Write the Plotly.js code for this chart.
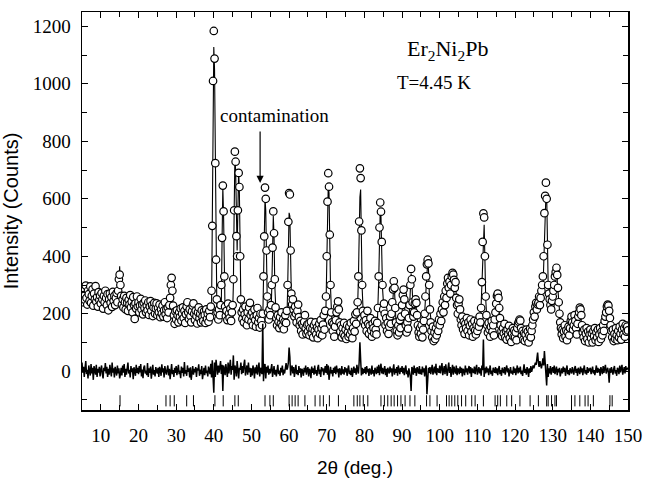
<!DOCTYPE html>
<html>
<head>
<meta charset="utf-8">
<script src="https://cdn.plot.ly/plotly-3.0.1.min.js"></script>
<style>html,body{margin:0;padding:0;background:#fff;}#chart{width:645px;height:478px;}</style>
</head>
<body>
<div id="chart"></div>
<script>
// Measurement grid: 2theta from 5 to 150 deg, step 0.2 deg (726 points)
const twoThetaStart = 5;
const twoThetaStep = 0.2;

// Observed intensity (counts), one row per 5 degrees
const observed = [
275,240,290,262,248,298,255,232,280,268,245,295,238,262,285,228,270,250,296,242,258,225,275,248,263, // 5
236,272,250,218,262,240,280,255,230,268,212,250,270,238,258,224,276,245,262,230,255,272,240,280,320, // 10
336,300,262,232,250,222,262,240,215,255,238,210,248,232,265,222,242,205,258,230,182,236,218,260,226, // 15
240,205,228,252,215,232,198,238,220,246,205,228,212,240,196,225,244,210,230,192,222,238,200,218,236, // 20
195,220,205,232,188,215,200,228,190,212,240,198,215,185,222,205,230,255,300,325,280,228,195,165,208, // 25
180,212,195,170,205,188,218,176,200,222,185,210,168,198,225,240,205,182,215,192,170,208,228,236,200, // 30
178,210,192,166,205,222,184,200,170,212,190,175,208,196,168,215,182,200,172,210,188,225,280,506,1010, // 35
1184,1088,724,388,250,205,180,215,195,230,300,464,646,556,330,225,192,210,178,235,200,185,218,175,205, // 40
230,320,560,764,729,470,400,560,690,641,400,250,205,182,215,170,198,225,185,160,205,180,222,238,195, // 45
172,205,160,188,215,178,155,195,220,170,185,152,200,176,160,200,330,469,639,600,420,260,205,180,215, // 50
195,230,300,430,556,480,320,222,185,160,195,172,150,188,165,205,158,180,146,172,195,168,210,300,520, // 55
620,615,420,270,232,250,215,190,225,200,170,210,232,188,160,175,140,165,128,158,172,195,150,130,162, // 60
138,165,125,150,172,132,148,118,160,140,170,128,152,115,145,165,130,178,150,125,162,195,145,210,260, // 65
400,590,689,642,475,300,205,170,140,165,120,155,178,205,225,243,215,170,138,160,118,150,130,168,122, // 70
145,112,160,135,120,155,128,168,140,115,150,175,138,198,165,205,240,330,521,706,672,490,300,210,172, // 75
195,160,178,140,210,165,130,158,185,142,120,165,150,132,175,145,128,168,220,330,500,587,555,450,300, // 80
215,235,200,160,185,140,168,130,155,190,165,200,240,285,313,290,220,170,140,125,160,135,178,150,190, // 85
230,265,284,250,200,160,135,170,148,185,230,300,356,320,240,190,205,235,250,238,195,160,135,120,150, // 90
130,160,118,145,175,200,260,330,372,388,375,300,215,170,140,118,155,105,135,112,150,125,165,140,180, // 95
160,200,175,215,240,205,260,230,280,255,305,325,290,312,270,300,330,342,336,318,290,310,255,230,200, // 100
235,250,215,180,160,190,145,172,130,165,150,185,140,170,125,158,180,138,165,120,150,175,142,128,160, // 105
140,175,155,190,170,220,310,450,549,535,400,260,195,160,135,168,145,120,155,175,138,160,125,180,205, // 110
235,262,270,255,220,185,160,140,122,150,132,165,118,140,110,145,128,158,115,138,102,130,150,120,142, // 115
118,135,108,150,165,172,180,176,150,125,140,110,132,105,128,145,112,138,100,125,148,118,140,160,180, // 120
205,190,225,238,215,232,238,260,230,255,280,300,330,400,550,610,656,600,440,300,270,250,230,215,245, // 125
260,280,300,330,345,360,335,290,240,200,170,150,128,145,115,138,160,120,142,108,135,155,125,150,175, // 130
190,170,145,160,195,175,150,128,165,190,205,221,215,195,160,135,118,145,105,130,150,112,138,100,128, // 135
145,115,132,100,140,122,150,108,135,118,145,102,128,150,112,138,125,160,140,175,190,205,225,232,228, // 140
210,185,160,140,118,145,105,130,112,150,125,108,140,118,155,130,110,145,165,128,150,120,160,138,155,142 // 145-150
];

// Difference (observed - calculated), same grid
const difference = [
30,-5,15,-20,10,35,-10,5,-25,20,0,-15,25,-8,12,-30,18,2,-12,22,-20,8,-5,15,-18,
5,20,-10,-25,12,0,28,-8,15,-20,8,-12,22,5,-18,30,-5,10,-22,15,2,-15,20,-8,10,
-25,-10,12,-15,20,-5,25,-20,8,-12,15,30,-8,5,-22,18,-3,10,-28,14,0,-16,22,-6,12,
-10,18,-4,25,-18,6,-24,12,20,-8,2,-14,28,-20,10,-6,16,-26,8,22,-12,4,-18,14,0,
-8,12,-20,15,5,-16,24,-4,10,-22,18,0,-12,6,20,-15,8,-28,14,25,-10,4,-20,12,-6,
18,-14,8,22,-10,2,-24,16,-6,12,-18,32,-8,4,-16,20,-2,10,-22,14,-30,6,18,-12,8,
-4,14,-20,10,2,24,-16,6,-10,18,-28,8,12,-14,20,-6,2,-18,16,4,-10,26,-22,38,-60,
-75,30,-20,40,10,-12,20,-5,15,35,-10,22,-69,20,8,-14,25,5,-20,30,-8,15,40,-12,18,
5,55,-30,20,10,-18,35,10,-25,12,5,30,-10,18,-6,24,40,-15,8,20,-12,30,-4,12,-20,
10,-15,20,5,-25,14,-8,22,-12,6,30,-18,12,0,-10,165,-35,20,25,-25,15,-5,20,-12,8,
-8,14,25,-20,10,18,-12,5,-18,8,22,-10,2,-16,12,-4,20,-14,6,-8,14,28,5,12,30,
82,50,-15,10,20,-8,14,-20,6,22,-10,4,-14,18,-6,10,-22,8,2,-16,12,-4,20,-12,6,
14,-18,8,2,-24,16,-6,10,-12,20,-8,4,-16,12,22,-10,6,-20,14,0,10,-14,8,18,-6,
25,-12,20,-30,10,15,-8,4,-18,12,-6,16,-10,20,-4,8,-22,10,2,-14,18,-8,6,-12,14,
-4,10,-16,6,20,-10,2,-14,12,-20,8,16,-6,10,-12,22,4,-8,30,101,40,-15,12,-10,8,
-6,14,-10,18,-4,8,-16,10,2,-12,20,-8,4,-18,12,0,-10,16,-6,22,-14,10,26,-8,12,
-10,6,18,-14,8,-20,12,2,-8,16,-4,10,-18,6,24,-12,8,-6,14,-16,20,4,-10,12,-2,
18,-8,12,-14,6,20,-10,2,-22,10,-4,-20,-69,15,8,-12,20,-6,10,-16,14,2,-8,18,-10,
6,-12,16,-4,10,-18,8,20,-80,-20,12,-6,14,-10,4,22,-12,8,16,-8,26,-14,10,4,-6,
20,-8,12,28,-14,6,18,-10,24,4,-16,10,30,-6,14,-20,8,22,-12,16,2,-8,20,-14,10,
4,-10,16,-6,12,-18,8,2,-14,20,-4,10,-12,6,18,-8,14,-20,10,0,-6,16,-10,8,22,
-12,6,14,-8,10,-16,20,4,110,-20,12,-8,16,-4,10,-14,6,20,-10,2,-16,12,4,-6,14,
-8,10,-14,6,18,-10,4,-16,12,0,-6,14,-12,8,20,-4,10,-18,6,14,-8,2,-12,16,-6,
10,-14,6,20,-8,12,-4,16,-10,2,-16,10,24,-6,8,-12,14,4,-20,10,-6,18,-2,8,20,
10,18,30,22,40,65,30,15,35,20,10,25,45,20,70,30,-15,-50,25,-20,10,-8,18,-12,6,
14,-6,20,-10,4,16,-14,8,-4,12,-18,6,10,-8,16,-2,12,-16,6,20,-10,4,-14,10,2,
-8,14,4,-12,10,18,-6,8,-16,12,2,-10,16,-4,10,-14,6,20,-8,4,-12,14,-6,10,0,
12,-10,6,16,-8,4,-14,10,20,-6,12,-4,8,-16,14,2,-10,18,-6,10,22,-8,4,12,-4,
-40,10,-6,14,2,-12,8,18,-8,4,-16,12,6,-10,20,-4,10,22,-12,6,14,-8,18,4,10,12
];

// Calculated profile (Rietveld fit)
const calcX = [5,10,14.4,14.6,14.8,15.0,15.2,15.4,20,25,28.2,28.6,28.8,29.0,29.4,33,38,39.4,39.6,39.8,40.0,40.2,40.4,40.6,40.8,41.2,42.0,42.2,42.4,42.6,42.8,43.0,45.0,45.2,45.4,45.6,45.8,46.0,46.2,46.4,46.6,46.8,47.0,47.2,47.6,49.2,49.6,50.0,53.0,53.2,53.4,53.6,53.8,54.0,54.2,54.6,55.2,55.4,55.6,55.8,56.0,56.2,56.6,59.4,59.6,59.8,60.0,60.2,60.4,60.6,61.0,61.4,62.4,63.0,65.0,69.6,69.8,70.0,70.2,70.4,70.6,70.8,71.0,71.4,72.6,73.0,73.4,77.6,78.2,78.4,78.6,78.8,79.0,79.2,79.4,79.8,83.4,83.8,84.0,84.2,84.4,84.6,84.8,85.2,85.6,87.2,87.6,87.8,88.0,88.4,89.8,90.2,90.4,90.6,91.0,91.8,92.2,92.4,92.6,93.0,93.6,94.2,95.8,96.2,96.6,96.8,97.0,97.4,98.0,100.0,101.0,102.2,102.8,103.4,104.2,104.8,105.2,105.8,110.8,111.2,111.4,111.6,111.8,112.0,112.2,112.6,114.6,115.2,115.4,115.6,116.2,120.6,121.2,121.8,124.4,125.6,126.4,127.4,127.8,128.0,128.2,128.4,128.6,128.8,129.4,130.4,131.0,131.6,132.2,135.8,136.4,137.2,137.8,143.6,144.6,145.2,146.0,150.0];
const calcY = [262,248,240,250,300,365,290,240,222,212,206,262,310,262,202,196,190,210,480,960,1128,1050,700,380,230,190,232,460,640,540,320,200,200,300,550,740,700,460,420,560,700,620,380,230,182,180,215,178,172,280,460,600,560,400,240,175,200,290,420,540,470,300,175,168,280,470,551,540,400,260,230,175,205,160,150,150,230,400,590,650,620,450,290,160,180,225,160,148,230,320,520,605,632,480,290,165,150,320,480,560,540,440,290,210,155,170,270,300,280,165,170,250,270,240,160,170,290,340,310,200,240,160,160,250,360,380,360,210,145,150,210,310,290,330,300,200,230,160,160,300,430,440,510,390,255,160,160,250,260,250,160,140,170,130,140,200,230,280,480,580,613,620,420,300,220,290,350,230,145,175,140,210,155,140,220,180,135,135];

// Bragg reflection positions (deg)
const braggPositions = [15.1,27.3,28.4,29.5,32.8,34.6,40.3,42.5,45.6,46.5,53.6,54.9,55.8,60.0,60.8,61.6,62.4,64.2,66.9,68.2,69.1,70.7,73.1,77.2,78.1,78.8,79.7,80.9,84.4,85.3,86.2,87.1,87.9,88.8,89.7,90.8,92.1,93.4,96.5,97.4,99.3,101.8,102.5,103.2,104.0,104.8,105.8,106.9,108.5,109.4,111.6,114.7,115.4,116.1,117.8,119.1,121.3,124.0,126.2,128.4,128.8,129.7,130.6,131.0,135.0,135.9,137.2,138.6,139.4,140.8,145.2,145.8];
const braggLevel = -103;

const twoTheta = observed.map((_, i) => +(twoThetaStart + i * twoThetaStep).toFixed(2));

const traces = [
  {x: calcX, y: calcY, type: 'scatter', mode: 'lines', line: {color: '#000', width: 1.1}, hoverinfo: 'skip'},
  {x: twoTheta, y: observed, type: 'scatter', mode: 'markers',
   marker: {symbol: 'circle', size: 7.5, color: '#fff', line: {color: '#000', width: 1.2}}},
  {x: twoTheta, y: difference, type: 'scatter', mode: 'lines', line: {color: '#000', width: 1.5}},
  {x: braggPositions, y: braggPositions.map(() => braggLevel), type: 'scatter', mode: 'markers',
   marker: {symbol: 'line-ns', size: 8, color: '#000', line: {color: '#000', width: 1}}}
];

const serif = 'Liberation Serif';
const sans = 'Liberation Sans';

const layout = {
  width: 645, height: 478,
  margin: {l: 82, r: 17, t: 12, b: 68},
  paper_bgcolor: '#fff', plot_bgcolor: '#fff',
  font: {family: serif, size: 19, color: '#000'},
  showlegend: false,
  xaxis: {
    range: [5, 150], tickmode: 'linear', tick0: 0, dtick: 10,
    ticks: 'inside', ticklen: 6, tickwidth: 1, tickcolor: '#000',
    minor: {dtick: 5, ticks: 'inside', ticklen: 5, tickcolor: '#000', tickwidth: 1},
    showline: true, linecolor: '#000', linewidth: 1.5, mirror: 'ticks',
    showgrid: false, zeroline: false,
    tickfont: {family: serif, size: 19, color: '#000'},
    ticklabelstandoff: 8,
    title: {text: '2θ (deg.)', font: {family: sans, size: 19, color: '#000'}, standoff: 16}
  },
  yaxis: {
    range: [-135, 1250], tickmode: 'linear', tick0: 0, dtick: 200,
    ticks: 'inside', ticklen: 6, tickwidth: 1, tickcolor: '#000',
    minor: {dtick: 100, ticks: 'inside', ticklen: 5, tickcolor: '#000', tickwidth: 1},
    showline: true, linecolor: '#000', linewidth: 1.5, mirror: 'ticks',
    showgrid: false, zeroline: false,
    tickfont: {family: serif, size: 19, color: '#000'},
    ticklabelstandoff: 6,
    title: {text: 'Intensity (Counts)', font: {family: sans, size: 20, color: '#000'}, standoff: 14}
  },
  annotations: [
    {x: 102, y: 1117, xref: 'x', yref: 'y', text: 'Er<sub>2</sub>Ni<sub>2</sub>Pb', showarrow: false,
     font: {family: serif, size: 22, color: '#000'}},
    {x: 98.5, y: 1006, xref: 'x', yref: 'y', text: 'T=4.45 K', showarrow: false,
     font: {family: serif, size: 19, color: '#000'}},
    {x: 56.2, y: 891, xref: 'x', yref: 'y', text: 'contamination', showarrow: false,
     font: {family: serif, size: 19, color: '#000'}},
    {x: 52.3, y: 655, xref: 'x', yref: 'y', ax: 52.3, ay: 839, axref: 'x', ayref: 'y',
     text: '', showarrow: true, arrowhead: 2, arrowsize: 1.2, arrowwidth: 1.2, arrowcolor: '#000'}
  ]
};

Plotly.newPlot('chart', traces, layout, {staticPlot: true, displayModeBar: false});
</script>
</body>
</html>
